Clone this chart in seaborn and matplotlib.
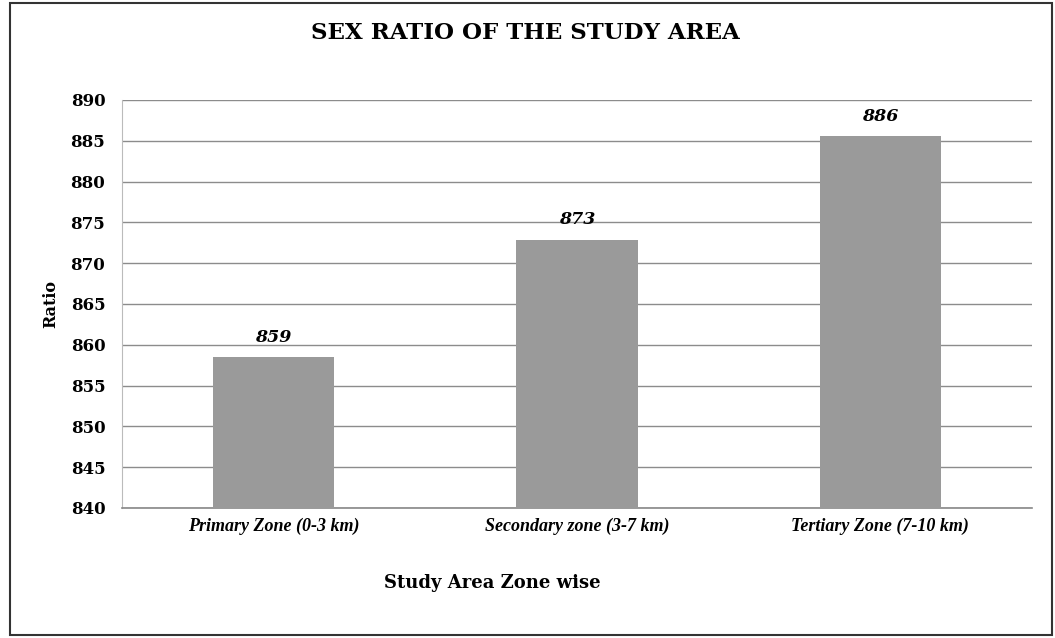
import matplotlib
matplotlib.use("Agg")
import matplotlib.pyplot as plt
import seaborn as sns
import pandas as pd
from matplotlib.patches import Rectangle

categories = ["Primary Zone (0-3 km)", "Secondary zone (3-7 km)", "Tertiary Zone (7-10 km)"]
values = [858.5, 872.9, 885.6]
labels = ["859", "873", "886"]
yticks = list(range(840, 891, 5))

df = pd.DataFrame({"zone": categories, "ratio": values})

sns.set_style("white")
plt.rcParams["text.color"] = "black"
plt.rcParams["axes.labelcolor"] = "black"
plt.rcParams["xtick.color"] = "black"
plt.rcParams["ytick.color"] = "black"

fig = plt.figure(figsize=(10.55, 6.38), dpi=100)
ax = fig.add_axes([122/1055, 1 - 508/638, (1032-122)/1055, (508-100)/638])

sns.barplot(data=df, x="zone", y="ratio", color="#9a9a9a", width=0.4,
            saturation=1, ax=ax, zorder=3, edgecolor="none", linewidth=0)

ax.set_ylim(840, 890)
ax.set_yticks(yticks)
ax.yaxis.grid(True, color="#8c8c8c", linewidth=1.0, zorder=0)
ax.set_axisbelow(True)
for s in ["top", "right"]:
    ax.spines[s].set_visible(False)
ax.spines["left"].set_color("#bbbbbb")
ax.spines["bottom"].set_color("#888888")
ax.spines["bottom"].set_linewidth(1.2)
ax.tick_params(axis="y", length=5, color="#bbbbbb", pad=7, labelcolor="black")
ax.tick_params(axis="x", length=0, pad=7, labelcolor="black")

for t in ax.get_yticklabels():
    t.set_fontfamily("DejaVu Serif")
    t.set_fontweight("bold")
    t.set_fontsize(12)
for t in ax.get_xticklabels():
    t.set_fontfamily("Liberation Serif")
    t.set_fontstyle("italic")
    t.set_fontweight("bold")
    t.set_fontsize(13)

for i, (v, lab) in enumerate(zip(values, labels)):
    ax.annotate(lab, (i, v), xytext=(0, 8), textcoords="offset points",
                ha="center", va="bottom", fontfamily="DejaVu Serif",
                fontweight="bold", fontstyle="italic", fontsize=12.5, color="black")

ax.set_ylabel("Ratio", fontfamily="DejaVu Serif", fontweight="bold", fontsize=11.5,
              labelpad=8, color="black")
ax.set_xlabel("")
fig.text(492/1055, 1 - 583/638, "Study Area Zone wise", ha="center", va="center",
         fontfamily="DejaVu Serif", fontweight="bold", fontsize=13, color="black")
fig.text(525/1055, 1 - 33/638, "SEX RATIO OF THE STUDY AREA", ha="center", va="center",
         fontfamily="DejaVu Serif", fontweight="bold", fontsize=16.5, color="black")

fig.patches.append(Rectangle((10/1055, 3/638), (1052-10)/1055, (635-3)/638,
                             transform=fig.transFigure, fill=False,
                             edgecolor="#333333", linewidth=1.5))

fig.savefig("out.png", dpi=100)
